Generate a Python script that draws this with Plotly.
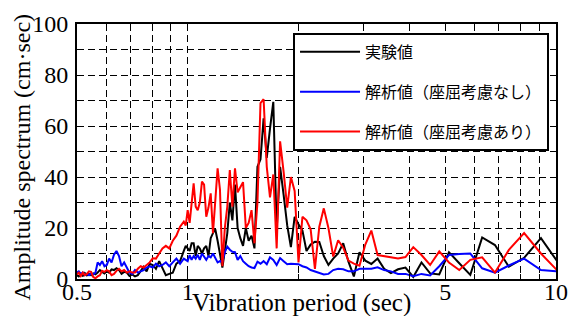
import plotly.graph_objects as go
import math

# Vibration period (sec)
periods = [
    0.4995, 0.5057, 0.512, 0.5185, 0.5251, 0.5319, 0.5389, 0.5461, 0.5535, 0.5611,
    0.5689, 0.5769, 0.5851, 0.5936, 0.6024, 0.6113, 0.6206, 0.6302, 0.64, 0.6502,
    0.6606, 0.6715, 0.6827, 0.6942, 0.7062, 0.7186, 0.7314, 0.7447, 0.7585, 0.7728,
    0.7877, 0.8031, 0.8192, 0.8359, 0.8533, 0.8715, 0.8904, 0.9102, 0.9309, 0.9526,
    0.9752, 0.987, 0.999, 1.0114, 1.024, 1.037, 1.0503, 1.0639, 1.0779, 1.0923,
    1.107, 1.1222, 1.1378, 1.1538, 1.1703, 1.1872, 1.2047, 1.2227, 1.2412, 1.2603,
    1.28, 1.3003, 1.3213, 1.343, 1.3653, 1.3885, 1.4124, 1.4372, 1.4629, 1.4895,
    1.517, 1.5457, 1.5754, 1.6063, 1.6384, 1.6718, 1.7067, 1.743, 1.7809, 1.8204,
    1.8618, 1.9051, 1.9505, 1.998, 2.048, 2.1005, 2.1558, 2.2141, 2.2756, 2.3406,
    2.4094, 2.4824, 2.56, 2.6426, 2.7307, 2.8248, 2.9257, 3.0341, 3.1508, 3.2768,
    3.4133, 3.5617, 3.7236, 3.901, 4.096, 4.3116, 4.5511, 4.8188, 5.12, 5.4613,
    5.8514, 6.3015, 6.8267, 7.4473, 8.192, 9.1022, 10.24,
]

# 実験値 (black)
experiment = [
    1.5, 1.0, 1.8, 1.2, 2.3, 1.4, 2.0, 1.5, 2.2, 1.8,
    2.5, 3.5, 2.8, 2.2, 3.0, 2.5, 3.8, 3.5, 4.2, 3.5,
    2.0, 2.8, 2.5, 1.2, 1.8, 1.0, 1.5, 3.0, 4.8, 3.0,
    6.0, 5.5, 4.0, 7.0, 4.0, 1.5, 2.0, 2.5, 6.0, 7.0,
    11, 13, 12, 11, 14, 14, 9, 13, 12, 10,
    12, 13, 9, 16, 18, 19.5, 15, 9, 4.5, 11,
    18, 30, 23, 37, 20, 16, 13, 20, 15, 17,
    12, 44, 47, 63, 47.5, 59, 69.5, 19.2, 44, 33,
    21, 12.5, 24.4, 21.5, 19, 11, 13.5, 14.6, 14.5, 9,
    5.5, 8, 10, 14, 6.8, 1.0, 10.5, 7.2, 5.9, 8.0,
    4.0, 2.3, 3.8, 4.5, 0.8, 6.5, 2.2, 1.8, 10.5, 6.2,
    1.6, 16.3, 13.3, 4.8, 8.3, 16, 5.5,
]

# 解析値（座屈考慮なし） (blue)
analysis_no_buckling = [
    2.5, 3.0, 2.0, 2.5, 1.5, 2.0, 1.5, 2.2, 1.8, 2.5,
    6.5, 5.5, 7.0, 5.0, 5.5, 8.0, 6.5, 9.5, 11.0, 9.0,
    5.0, 6.5, 4.5, 2.5, 2.0, 3.5, 2.5, 3.0, 3.5, 4.5,
    5.0, 4.5, 6.0, 5.0, 5.5, 6.5, 5.0, 6.5, 8.0, 6.0,
    8.0, 7.5, 7.0, 9.4, 7.5, 9.0, 8.0, 9.5, 7.5, 10.0,
    8.5, 7.5, 9.0, 8.5, 10.0, 8.5, 6.5, 7.0, 6.8, 10.5,
    12.7, 11.5, 10.7, 10.5, 7.5, 9.0, 7.0, 6.0, 5.0, 4.5,
    4.3, 6.8, 6.0, 7.0, 5.8, 8.5, 7.5, 5.5, 8.2, 7.0,
    5.8, 6.0, 6.0, 5.8, 5.0, 4.5, 3.5, 3.0, 2.2, 1.8,
    2.0, 3.5, 4.0, 3.8, 3.0, 3.0, 4.0, 4.0, 4.0, 4.6,
    3.5, 3.0, 2.0, 2.0, 1.1, 2.0, 1.4, 5.0, 9.4, 9.8,
    10.0, 4.2, 2.5, 5.3, 8.0, 3.5, 2.9,
]

# 解析値（座屈考慮あり） (red)
analysis_buckling = [
    1.8, 2.5, 1.2, 2.5, 1.5, 2.0, 3.0, 2.8, 0.8, 0.3,
    1.0, 1.5, 3.2, 2.8, 3.5, 3.0, 1.5, 2.0, 3.2, 4.0,
    3.0, 3.5, 2.5, 3.0, 2.5, 2.5, 4.0, 5.0, 4.5, 5.5,
    6.5, 8.1, 8.0, 10.0, 12.0, 13.0, 12.0, 15.0, 17.0, 20.5,
    22.5, 21, 27, 22, 30, 37.5, 28.4, 27, 30, 38.2,
    37, 24.4, 28, 33.6, 18, 30, 43.4, 35, 5, 20,
    28.4, 42.7, 28.4, 43.4, 34, 36, 38, 20, 22, 27,
    14, 30, 69, 70.5, 44, 32, 41, 12, 54, 42,
    28, 40, 34.5, 6.5, 24.4, 23, 19.5, 4.0, 20.5, 27.7,
    20, 8.8, 15.2, 12.3, 7.2, 6.0, 5.2, 13.5, 19, 9.4,
    9.0, 8.7, 8.0, 8.6, 12.5, 9.4, 5.5, 10.8, 6.5, 3.5,
    7.5, 8.5, 2.5, 11.4, 18, 10, 2.3,
]

series_names = ["実験値", "解析値（座屈考慮なし）", "解析値（座屈考慮あり）"]
series_colors = ["#000000", "#0000ff", "#ff0000"]

x_tickvals = [0.5, 1, 5, 10]
x_ticktext = ["0.5", "1", "5", "10"]
x_minor = [0.6, 0.7, 0.8, 0.9, 2, 3, 4, 6, 7, 8, 9]
y_tickvals = [0, 10, 20, 30, 40, 50, 60, 70, 80, 90, 100]
y_ticktext = ["0", "", "20", "", "40", "", "60", "", "80", "", "100"]

assert len(periods) == len(experiment) == len(analysis_no_buckling) == len(analysis_buckling)

fig = go.Figure()
for name, vals, col in zip(series_names,
                           [experiment, analysis_no_buckling, analysis_buckling],
                           series_colors):
    fig.add_trace(go.Scatter(x=periods, y=vals, mode="lines", name=name,
                             line=dict(color=col, width=2), legendgroup=name))

serif = "Liberation Serif"
DASH = "7px,4px"
fig.update_layout(
    width=573, height=316,
    margin=dict(l=77, r=17, t=24, b=37),
    paper_bgcolor="white", plot_bgcolor="white",
    showlegend=True,
    legend=dict(
        x=0.451, y=0.965, xanchor="left", yanchor="top",
        bgcolor="white", bordercolor="black", borderwidth=2,
        font=dict(family="Noto Sans CJK JP", size=16, color="black"),
        tracegroupgap=16, itemwidth=60,
    ),
    font=dict(family=serif, color="black"),
)
fig.update_xaxes(
    type="log", range=[math.log10(0.5), 1], automargin=False,
    tickvals=x_tickvals, ticktext=x_ticktext,
    tickfont=dict(family=serif, size=24, color="black"),
    ticks="inside", ticklen=6, tickcolor="black", ticklabelstandoff=-10,
    showline=True, linecolor="black", linewidth=2, mirror="ticks",
    showgrid=True, gridcolor="black", gridwidth=1, griddash=DASH,
    minor=dict(tickvals=x_minor, ticks="inside", ticklen=5, tickcolor="black",
               showgrid=True, gridcolor="black", gridwidth=1, griddash=DASH),
    zeroline=False,
)
fig.update_yaxes(
    range=[0, 100], automargin=False,
    tickvals=y_tickvals, ticktext=y_ticktext,
    tickfont=dict(family=serif, size=24, color="black"),
    ticks="inside", ticklen=5, tickcolor="black", ticklabelstandoff=2,
    showline=True, linecolor="black", linewidth=2, mirror="ticks",
    showgrid=True, gridcolor="black", gridwidth=1, griddash=DASH,
    zeroline=False,
)
fig.add_annotation(text="Vibration period (sec)", xref="paper", yref="paper",
                   x=0.468, y=-0.096, xanchor="center", yanchor="middle",
                   showarrow=False, font=dict(family=serif, size=25, color="black"))
fig.add_annotation(text="Amplitude spectrum (cm·sec)", xref="paper", yref="paper",
                   x=-0.115, y=0.480, xanchor="center", yanchor="middle", textangle=-90,
                   showarrow=False, font=dict(family=serif, size=24, color="black"))

fig.write_html("out.html", config={"displayModeBar": False},
               post_script="document.body.style.margin='0';document.body.style.padding='0';")
